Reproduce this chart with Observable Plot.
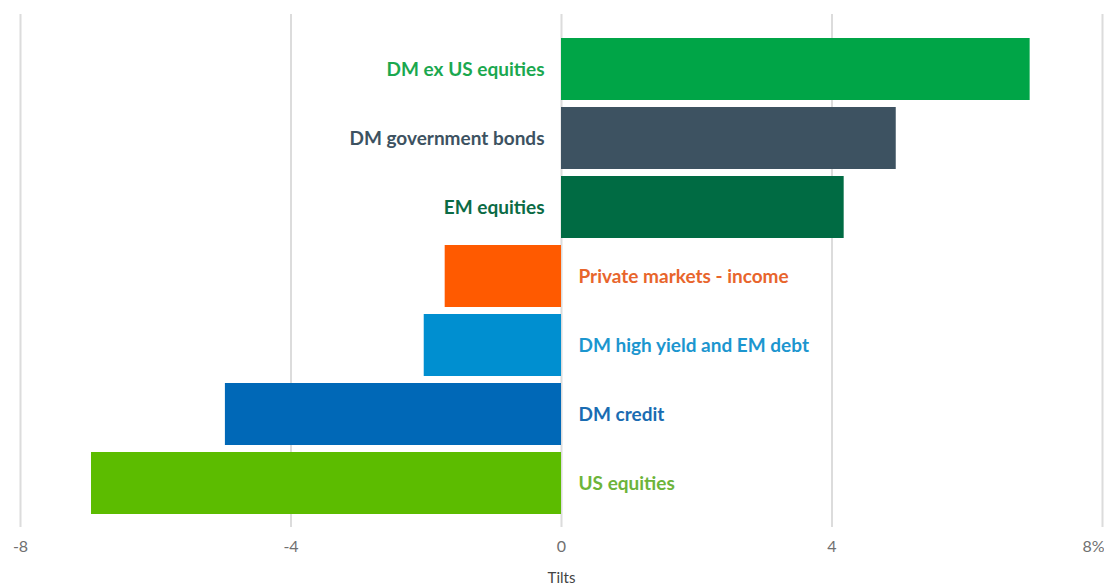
<!DOCTYPE html>
<html>
<head>
<meta charset="utf-8">
<script src="https://cdn.jsdelivr.net/npm/d3@7"></script>
<script src="https://cdn.jsdelivr.net/npm/@observablehq/plot@0.6"></script>
<style>
  html, body { margin: 0; padding: 0; background: #fff; overflow: hidden; }
  #chart { width: 1104px; height: 586px; overflow: hidden; }
</style>
</head>
<body>
<div id="chart"></div>
<script>
const categories = [
  "DM ex US equities",
  "DM government bonds",
  "EM equities",
  "Private markets - income",
  "DM high yield and EM debt",
  "DM credit",
  "US equities"
];
const values = [6.93, 4.95, 4.18, -1.72, -2.03, -4.97, -6.95];
const barColors = ["#00A547", "#3D5261", "#006B43", "#FF5A00", "#008FD0", "#0068B7", "#5CBC00"];
const textColors = ["#1BA84F", "#3D5261", "#0B6B45", "#E8652C", "#1C96CF", "#1A6CB2", "#6DB43A"];
const xTicks = [-8, -4, 0, 4, 8];
const xTickLabels = ["-8", "-4", "0", "4", "8%"];
const xLabel = "Tilts";

const data = categories.map((c, i) => ({
  category: c, value: values[i], bar: barColors[i], text: textColors[i]
}));
const ticks = xTicks.map((t, i) => ({ x: t, label: xTickLabels[i] }));

const chart = Plot.plot({
  width: 1104,
  height: 586,
  marginLeft: 20,
  marginRight: 2,
  marginTop: 14,
  marginBottom: 59,
  style: { fontFamily: "Lato, 'Open Sans', sans-serif", background: "#fff", overflow: "hidden" },
  x: { domain: [-8, 8], axis: null },
  y: { domain: categories, padding: 0.1, insetTop: 17, insetBottom: 6, axis: null },
  marks: [
    Plot.ruleX(xTicks, { stroke: "#dcdcdc", strokeWidth: 2 }),
    Plot.barX(data, { x: "value", y: "category", fill: d => d.bar }),
    Plot.text(data.filter(d => d.value > 0), {
      x: 0, y: "category", text: "category", fill: d => d.text,
      textAnchor: "end", dx: -17, fontSize: 19, fontWeight: "bold"
    }),
    Plot.text(data.filter(d => d.value <= 0), {
      x: 0, y: "category", text: "category", fill: d => d.text,
      textAnchor: "start", dx: 17, fontSize: 19, fontWeight: "bold"
    }),
    Plot.text(ticks.slice(0, -1), { x: "x", text: "label", frameAnchor: "bottom", dy: 24,
      fontSize: 16, fill: "#707070" }),
    Plot.text(ticks.slice(-1), { x: "x", text: "label", frameAnchor: "bottom", dy: 24,
      textAnchor: "end", dx: 2, fontSize: 16, fill: "#707070" }),
    Plot.text([xLabel], { frameAnchor: "bottom", dy: 55, text: d => d, fontSize: 15, fill: "#444" })
  ]
});
document.getElementById("chart").appendChild(chart);
</script>
</body>
</html>
